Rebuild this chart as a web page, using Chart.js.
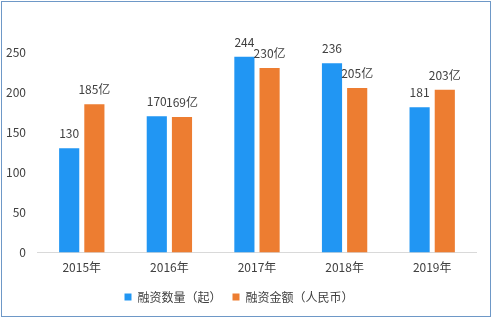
<!doctype html>
<html>
<head>
  <meta charset="utf-8">
  <title>融资数量与金额</title>
  <script src="https://cdn.jsdelivr.net/npm/chart.js"></script>
  <style>
    body { margin: 0; background: #fff; }
    .frame { margin: 1px; width: 490px; height: 316px; box-sizing: border-box; border: 1px solid #6e98c7; background: #fff; }
  </style>
</head>
<body>
  <div class="frame">
    <canvas id="chart" width="488" height="314"></canvas>
  </div>

  <script>
    var years = ["2015年", "2016年", "2017年", "2018年", "2019年"];
    var dealCount = [130, 170, 244, 236, 181];
    var dealAmount = [185, 169, 230, 205, 203];
    var yTicks = [0, 50, 100, 150, 200, 250];

    var font = "'Noto Sans CJK SC', 'Microsoft YaHei', sans-serif";

    // value labels above each bar
    var barLabels = {
      id: 'barLabels',
      afterDatasetsDraw: function(chart) {
        var ctx = chart.ctx;
        ctx.save();
        ctx.font = '12px ' + font;
        ctx.fillStyle = '#404040';
        ctx.textAlign = 'center';
        ctx.textBaseline = 'alphabetic';
        chart.data.datasets.forEach(function(ds, i) {
          var meta = chart.getDatasetMeta(i);
          meta.data.forEach(function(bar, j) {
            var txt = ds.data[j] + (i === 1 ? '亿' : '');
            ctx.fillText(txt, bar.x, bar.y - 10);
          });
        });
        ctx.restore();
      }
    };

    new Chart(document.getElementById("chart"), {
      type: 'bar',
      data: {
        labels: years,
        datasets: [{
          label: "融资数量（起）",
          data: dealCount,
          backgroundColor: "#2196f3"
        }, {
          label: "融资金额（人民币）",
          data: dealAmount,
          backgroundColor: "#ed7d31"
        }]
      },
      options: {
        responsive: false,
        animation: false,
        categoryPercentage: 0.575,
        barPercentage: 0.8,
        layout: {
          padding: { top: 50, left: 0, right: 14, bottom: 3 }
        },
        scales: {
          x: {
            grid: { display: false },
            border: { display: true, color: '#d9d9d9', width: 1 },
            ticks: { color: '#404040', font: { family: font, size: 12 }, padding: 0 },
            afterFit: function(scale) { scale.height += 5; }
          },
          y: {
            min: 0,
            max: 250,
            afterBuildTicks: function(axis) {
              axis.ticks = yTicks.map(function(v) { return { value: v }; });
            },
            grid: { display: false },
            border: { display: false },
            ticks: { color: '#404040', font: { family: font, size: 12 }, padding: 4 }
          }
        },
        plugins: {
          legend: {
            position: 'bottom',
            labels: {
              boxWidth: 7,
              boxHeight: 7,
              padding: 11,
              color: '#404040',
              font: { family: font, size: 12 }
            }
          },
          tooltip: { enabled: false }
        }
      },
      plugins: [barLabels]
    });
  </script>
</body>
</html>
